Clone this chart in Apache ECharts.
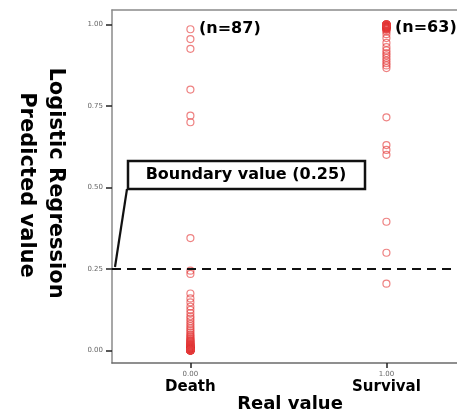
<!DOCTYPE html>
<html><head><meta charset="utf-8">
<script src="https://cdn.jsdelivr.net/npm/echarts@6/dist/echarts.min.js"></script>
<style>html,body{margin:0;padding:0;background:#fff}#c{width:457px;height:415px}</style>
</head><body><div id="c"></div>
<script>
// ---- data ----
const categories = ['Death', 'Survival'];
const categoryCodes = [0, 1];
const codeLabels = ['0.00', '1.00'];
const countLabels = ['(n=87)', '(n=63)'];
const yTickValues = [0, 0.25, 0.5, 0.75, 1.0];
const yTickLabels = ['0.00', '0.25', '0.50', '0.75', '1.00'];
const boundaryValue = 0.25;

const deathValues = [
  0.985, 0.955, 0.925, 0.800, 0.720, 0.700,
  0.345, 0.245, 0.235,
  0.175,0.160,0.148,0.135,0.125,0.115,0.105,0.098,0.090,0.082,
  0.075,0.068,0.062,0.056,0.050,0.046,0.042,0.038,0.035,0.032,
  0.030,0.028,0.026,0.024,0.022,0.020,0.019,0.018,0.017,0.016,
  0.015,0.014,0.013,0.012,0.011,0.010,0.010,0.009,0.009,0.008,
  0.008,0.007,0.007,0.006,0.006,0.006,0.005,0.005,0.005,0.004,
  0.004,0.004,0.004,0.003,0.003,0.003,0.003,0.003,0.002,0.002,
  0.002,0.002,0.002,0.002,0.001,0.001,0.001,0.001,0.001,0.001,
  0.001,0.001,0.000,0.000,0.000,0.000,0.000,0.000
];
const survivalValues = [
  0.715, 0.630, 0.615, 0.600, 0.395, 0.300, 0.205,
  0.866,0.874,0.881,0.889,0.897,0.905,0.912,0.920,0.930,0.943,
  0.958,0.970,0.978,0.983,0.985,0.986,0.987,0.988,0.989,0.990,
  0.990,0.991,0.991,0.992,0.992,0.993,0.993,0.993,0.994,0.994,
  0.994,0.995,0.995,0.995,0.995,0.996,0.996,0.996,0.996,0.997,
  0.997,0.997,0.997,0.998,0.998,0.998,0.998,0.998,0.999,0.999,
  0.999,0.999,0.999,0.999,1.000,1.000
];

// ---- chart ----
const FONT = '"DejaVu Sans", sans-serif';
const SMALL = '"DejaVu Sans", sans-serif';
const chart = echarts.init(document.getElementById('c'));
const pointStyle = { color: 'rgba(0,0,0,0)', borderColor: 'rgba(228,60,60,0.8)', borderWidth: 1.2 };
const seriesData = [deathValues, survivalValues].map((vals, i) => vals.map(v => [categoryCodes[i], v]));

chart.setOption({
  animation: false,
  backgroundColor: '#fff',
  grid: { left: 112, top: 10, right: 0, bottom: 52 },
  xAxis: [{
    type: 'value', min: -0.4, max: 1.36,
    splitLine: { show: false },
    axisLine: { show: true, onZero: false, lineStyle: { color: '#6b6b6b', width: 1.6 } },
    axisTick: { show: true, customValues: categoryCodes, length: 5, lineStyle: { color: '#222', width: 1.5 } },
    axisLabel: {
      customValues: categoryCodes, margin: 6,
      formatter: v => { const i = categoryCodes.indexOf(v); return '{a|' + codeLabels[i] + '}\n{b|' + categories[i] + '}'; },
      rich: {
        a: { fontSize: 7, color: '#666', fontFamily: SMALL, lineHeight: 10, align: 'center' },
        b: { fontSize: 15, color: '#000', fontWeight: 'bold', fontFamily: FONT, lineHeight: 17, align: 'center' }
      }
    }
  }, {
    type: 'value', position: 'top', min: -0.4, max: 1.36,
    splitLine: { show: false }, axisTick: { show: false }, axisLabel: { show: false },
    axisLine: { show: true, onZero: false, lineStyle: { color: '#8a8a8a', width: 1.5 } }
  }],
  yAxis: {
    type: 'value', min: -0.038, max: 1.044,
    splitLine: { show: false },
    axisLine: { show: true, onZero: false, lineStyle: { color: '#8a8a8a', width: 1.5 } },
    axisTick: { show: true, customValues: yTickValues, length: 6, lineStyle: { color: '#222', width: 1.5 } },
    axisLabel: {
      customValues: yTickValues, margin: 9,
      formatter: v => yTickLabels[yTickValues.indexOf(v)] || '',
      fontSize: 7, color: '#666', fontFamily: SMALL
    }
  },
  series: [0, 1].map(i => ({
    type: 'scatter', name: categories[i], data: seriesData[i],
    symbol: 'circle', symbolSize: 7, itemStyle: pointStyle,
    markLine: i === 0 ? {
      silent: true, symbol: 'none', label: { show: false },
      lineStyle: { color: '#111', width: 2.2, type: [9, 6] },
      data: [{ yAxis: boundaryValue }]
    } : undefined
  })),
  graphic: [
    { type: 'text', left: 199, top: 21, style: { text: countLabels[0], fontSize: 16, fontWeight: 'bold', fontFamily: FONT, fill: '#000' } },
    { type: 'text', left: 395, top: 20, style: { text: countLabels[1], fontSize: 16, fontWeight: 'bold', fontFamily: FONT, fill: '#000' } },
    { type: 'rect', shape: { x: 128, y: 161, width: 237, height: 28 }, style: { fill: '#fff', stroke: '#111', lineWidth: 2.5 } },
    { type: 'text', x: 246, y: 175, style: { text: 'Boundary value (0.25)', fontSize: 16, fontWeight: 'bold', fontFamily: FONT, fill: '#000', align: 'center', verticalAlign: 'middle' } },
    { type: 'line', shape: { x1: 127, y1: 189, x2: 115, y2: 267 }, style: { stroke: '#111', lineWidth: 2.2 } },
    { type: 'text', x: 290, y: 404, style: { text: 'Real value', fontSize: 18, fontWeight: 'bold', fontFamily: FONT, fill: '#000', align: 'center', verticalAlign: 'middle' } },
    { type: 'text', x: 55, y: 183, rotation: -Math.PI / 2, style: { text: 'Logistic Regression', fontSize: 21, fontWeight: 'bold', fontFamily: FONT, fill: '#000', align: 'center', verticalAlign: 'middle' } },
    { type: 'text', x: 26, y: 185, rotation: -Math.PI / 2, style: { text: 'Predicted value', fontSize: 21, fontWeight: 'bold', fontFamily: FONT, fill: '#000', align: 'center', verticalAlign: 'middle' } }
  ]
});
</script></body></html>
